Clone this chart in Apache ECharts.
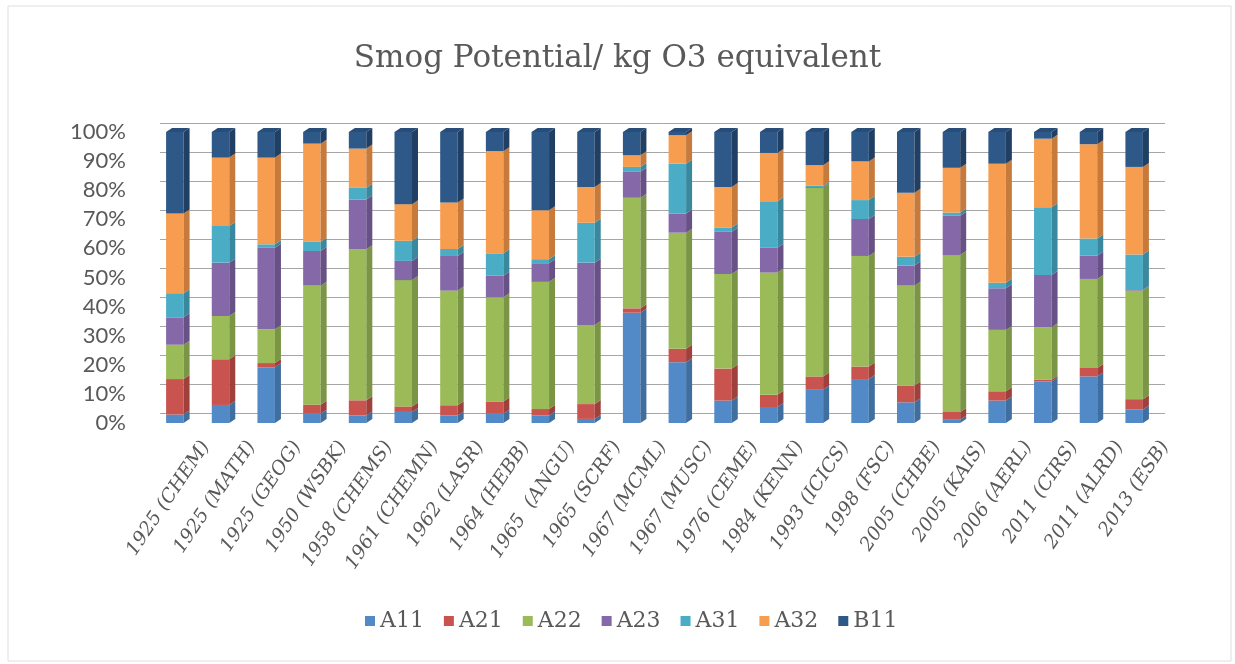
<!DOCTYPE html>
<html>
<head>
<meta charset="utf-8">
<script src="https://cdn.jsdelivr.net/npm/echarts@6/dist/echarts.min.js"></script>
<style>html,body{margin:0;padding:0;background:#fff;}#c{width:1235px;height:664px;}</style>
</head>
<body>
<div id="c"></div>
<script>
const categories = ['1925 (CHEM)','1925 (MATH)','1925 (GEOG)','1950 (WSBK)','1958 (CHEMS)','1961 (CHEMN)','1962 (LASR)','1964 (HEBB)','1965  (ANGU)','1965 (SCRF)','1967 (MCML)','1967 (MUSC)','1976 (CEME)','1984 (KENN)','1993 (ICICS)','1998 (FSC)','2005 (CHBE)','2005 (KAIS)','2006 (AERL)','2011 (CIRS)','2011 (ALRD)','2013 (ESB)'];
const seriesNames = ['A11','A21','A22','A23','A31','A32','B11'];
const A11 = [2.9, 6.2, 19.2, 3.2, 2.6, 3.8, 2.6, 3.2, 2.6, 1.4, 37.9, 20.9, 7.7, 5.5, 11.4, 15.1, 7.1, 1.1, 7.7, 14.3, 16.0, 4.6];
const A21 = [12.2, 15.7, 1.4, 3.1, 5.2, 1.9, 3.5, 4.2, 2.2, 5.1, 1.5, 4.6, 11.0, 4.2, 4.6, 4.3, 5.8, 2.7, 3.2, 0.6, 2.9, 3.6];
const A22 = [11.8, 14.9, 11.6, 40.9, 51.9, 43.4, 39.4, 35.8, 43.7, 27.2, 38.0, 39.9, 32.5, 42.0, 64.8, 38.0, 34.3, 53.9, 21.1, 18.0, 30.6, 37.3];
const A23 = [9.4, 18.3, 28.0, 11.9, 17.1, 6.6, 11.9, 7.4, 6.4, 21.4, 8.9, 6.6, 14.5, 8.5, 0.3, 12.7, 6.9, 13.5, 14.3, 18.0, 8.0, 0.2];
const A31 = [8.3, 12.6, 1.2, 3.2, 4.0, 6.9, 2.4, 7.7, 1.4, 13.7, 1.7, 17.1, 1.5, 16.0, 0.4, 6.5, 3.0, 1.1, 1.9, 23.2, 5.9, 12.2];
const A32 = [27.4, 23.5, 29.8, 33.7, 13.5, 12.6, 16.0, 35.1, 16.8, 12.3, 4.0, 9.8, 13.9, 16.6, 7.1, 13.3, 22.0, 15.4, 40.9, 23.6, 32.4, 30.1];
const B11 = [28.0, 8.8, 8.8, 4.0, 5.7, 24.8, 24.2, 6.6, 26.9, 18.9, 8.0, 1.1, 18.9, 7.2, 11.4, 10.1, 20.9, 12.3, 10.9, 2.3, 4.2, 12.0];
const yTicks = [0,10,20,30,40,50,60,70,80,90,100];

const seriesValues = [A11, A21, A22, A23, A31, A32, B11];
const colors = ['#5289c7','#c9544f','#9bbb59','#8468a8','#4bacc6','#f79d4f','#2d5888'];
const sideColors = ['#3f6e9f','#a0403c','#7a9545','#675185','#3a889d','#c67a3c','#203f62'];
const topColor = '#284d78';

// 100% stacked: normalise each category and build [cat, lo, hi]
const totals = categories.map((_, i) => seriesValues.reduce((s, arr) => s + arr[i], 0));
const stacked = seriesValues.map(() => []);
const cum = categories.map(() => 0);
seriesValues.forEach((arr, si) => {
  categories.forEach((_, i) => {
    const v = arr[i] / totals[i] * 100;
    stacked[si].push([i, cum[i], cum[i] + v]);
    cum[i] += v;
  });
});

const DX = 6, DY = 4, RATIO = 0.383;
function makeRender(si) {
  return function (params, api) {
    const cat = api.value(0), lo = api.value(1), hi = api.value(2);
    const p0 = api.coord([cat, lo]);
    const p1 = api.coord([cat, hi]);
    const w = api.size([1, 0])[0] * RATIO;
    const x0 = p0[0] - w / 2, x1 = p0[0] + w / 2;
    const yb = p0[1], yt = p1[1];
    const children = [
      {type: 'rect', shape: {x: x0, y: yt, width: w, height: yb - yt}, style: {fill: colors[si]}},
      {type: 'polygon', shape: {points: [[x1, yb], [x1 + DX, yb - DY], [x1 + DX, yt - DY], [x1, yt]]}, style: {fill: sideColors[si]}}
    ];
    if (si === seriesNames.length - 1) {
      children.push({type: 'polygon', shape: {points: [[x0, yt], [x1, yt], [x1 + DX, yt - DY], [x0 + DX, yt - DY]]}, style: {fill: topColor}});
    }
    return {type: 'group', children};
  };
}

const chart = echarts.init(document.getElementById('c'), null, {renderer: 'canvas'});
const labelFont = 'DejaVu Serif';
const option = {
  backgroundColor: '#ffffff',
  animation: false,
  graphic: [{type: 'rect', shape: {x: 8, y: 6, width: 1223, height: 655}, style: {fill: 'none', stroke: '#dedede', lineWidth: 1}, z: -10}],
  title: {
    text: 'Smog Potential/ kg O3 equivalent',
    left: 'center', top: 38,
    textStyle: {fontFamily: labelFont, fontSize: 31, fontWeight: 'normal', color: '#595959'}
  },
  legend: {
    data: seriesNames,
    bottom: 27, left: 360,
    icon: 'rect', itemWidth: 10, itemHeight: 10, itemGap: 20,
    textStyle: {fontFamily: labelFont, fontSize: 22, color: '#595959'}
  },
  grid: [
    {left: 152, right: 78, top: 132, bottom: 241},
    {left: 160, right: 70, top: 123, bottom: 251},
    {left: 183, right: 47, top: 132, bottom: 241}
  ],
  xAxis: [
    {type: 'category', gridIndex: 0, data: categories, axisLine: {show: false}, axisTick: {show: false}, axisLabel: {show: false}},
    {type: 'category', gridIndex: 1, data: categories, show: false},
    {type: 'category', gridIndex: 2, data: categories, axisLine: {show: false}, axisTick: {show: false},
      axisLabel: {interval: 0, rotate: 56, margin: 20, fontFamily: labelFont, fontStyle: 'italic', fontSize: 19, color: '#595959'}}
  ],
  yAxis: [
    {type: 'value', gridIndex: 0, min: 0, max: 100, interval: 10, splitLine: {show: false},
      axisLine: {show: false}, axisTick: {show: false},
      axisLabel: {formatter: v => yTicks.indexOf(v) >= 0 ? v + '%' : '', margin: 26, padding: [10, 0, 0, 0], fontFamily: 'Lato', fontSize: 22, color: '#595959'}},
    {type: 'value', gridIndex: 1, min: 0, max: 100, interval: 10, axisLabel: {show: false}, axisLine: {show: false}, axisTick: {show: false},
      splitLine: {show: true, lineStyle: {color: '#a6a6a6', width: 1}}},
    {type: 'value', gridIndex: 2, min: 0, max: 100, show: false}
  ],
  series: seriesNames.map((name, si) => ({
    name,
    type: 'custom',
    xAxisIndex: 0, yAxisIndex: 0,
    itemStyle: {color: colors[si]},
    renderItem: makeRender(si),
    encode: {x: 0, y: [1, 2]},
    data: stacked[si],
    z: 2
  }))
};
chart.setOption(option);
</script>
</body>
</html>
